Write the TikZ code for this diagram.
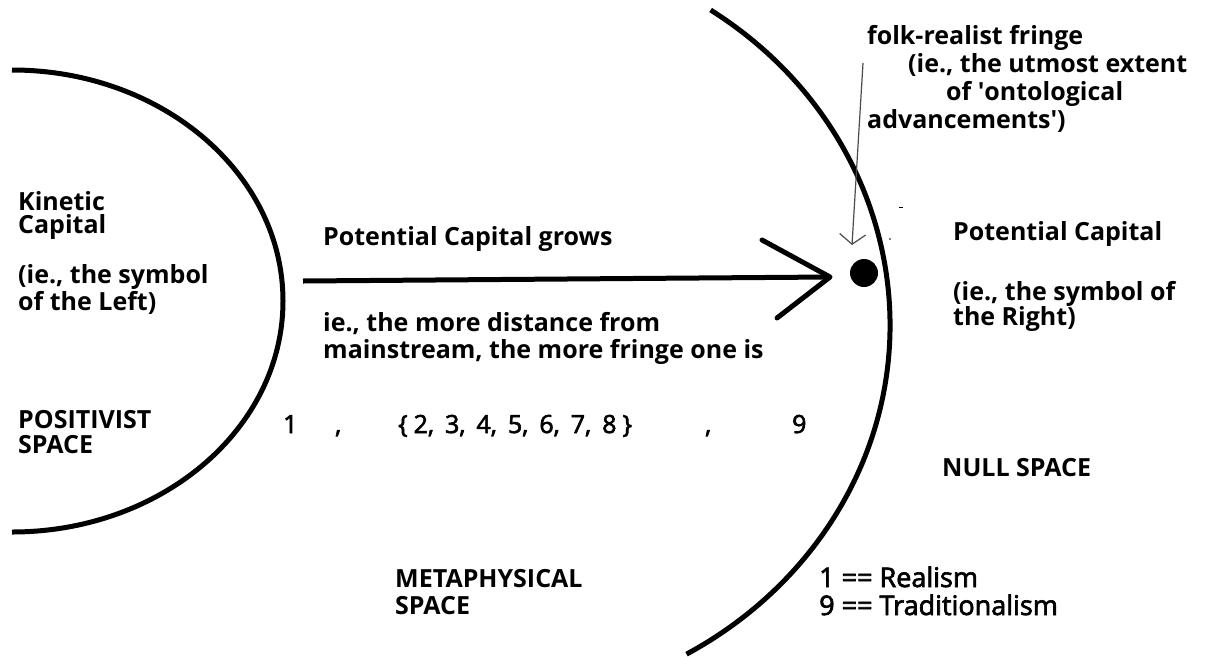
\documentclass[tikz,border=0pt]{standalone}
\usepackage{fontspec}
\setmainfont{Open Sans}
\newfontfamily\medfont[FakeBold=2.5]{Open Sans}
\usepackage{tikz}
\usetikzlibrary{arrows.meta}

\tikzset{
  curve/.style={line width=5pt},
  lbl/.style={font=\bfseries\fontsize{25}{#1}\selectfont, align=left, anchor=base west, inner sep=0pt},
  lbl/.default=25,
  key/.style={font=\medfont\fontsize{#1}{28}\selectfont, align=left, anchor=base west, inner sep=0pt},
  key/.default=26,
  pointer/.style={draw=black!70, line width=1.2pt, -{Straight Barb[length=10pt, width=26pt]}}
}

\begin{document}
\begin{tikzpicture}[x=1pt, y=-1pt]
        \fill[white] (0,0) rectangle (1206,656);
        \useasboundingbox (0,0) rectangle (1206,656);
        % Raender der Raeume
        \draw[curve] (12,70) arc[start angle=-90, end angle=90, x radius=271, y radius=231];
        \draw[curve] (710.6,10) arc[start angle=-56, end angle=60, x radius=407, y radius=380];
        % Beschriftungen (Anker = Grundlinie der letzten Zeile)
        \node[lbl] (kinetic) at (18,310) {Kinetic\\[-2pt]Capital\\[25pt](ie., the symbol\\of the Left)};
        \node[lbl] (positivist) at (18,453) {POSITIVIST\\SPACE};
        \node[lbl] (grows) at (323,245) {Potential Capital grows};
        \node[lbl=27] (distance) at (323,358) {ie., the more distance from\\mainstream, the more fringe one is};
        \node[lbl=27] (metaphysical) at (395,614) {METAPHYSICAL\\SPACE};
        \node[lbl] (potential) at (953,325) {Potential Capital\\[33pt](ie., the symbol of\\the Right)};
        \node[lbl] (null) at (942,476) {NULL SPACE};
        \node[lbl=28] (fringe) at (867,128) {folk-realist fringe\\\hspace*{41pt}(ie., the utmost extent\\\hspace*{79pt}of \textquotesingle ontological\\advancements\textquotesingle)};
        \node[key=27] (legend) at (819,615) {1 == Realism\\9 == Traditionalism};
        % Reihe der Positionen
        \foreach \x/\name/\txt in {283/one/1, 335/commaA/{,}, 398/middle/{\spaceskip=11pt\{\kern6pt2, 3, 4, 5, 6, 7, 8\kern6pt\}}, 705/commaB/{,}, 792/nine/9} {
          \node[key=25] (\name) at (\x,433) {\txt};
        }
        % Pfeil und Punkt
        \node[circle, fill=black, inner sep=0pt, minimum size=28pt] (dot) at (864,273) {};
        \coordinate (shaft) at (303,281);
        \coordinate (tip) at (830,277);
        \coordinate (barbup) at (762,240);
        \coordinate (barbdown) at (777,318);
        \draw[line width=5pt] (shaft) -- (tip);
        \draw[line width=5pt, line join=round, line cap=round] (barbup) -- (tip) -- (barbdown);
        \coordinate (notefoot) at (863,63);
        \coordinate (notetip) at (852,245);
        \draw[pointer] (notefoot) -- (notetip);
        % kleine Flecken
        \fill (899,206.5) rectangle (903,207.8);
        \fill (890,239) circle (0.9pt);
\end{tikzpicture}
\end{document}
